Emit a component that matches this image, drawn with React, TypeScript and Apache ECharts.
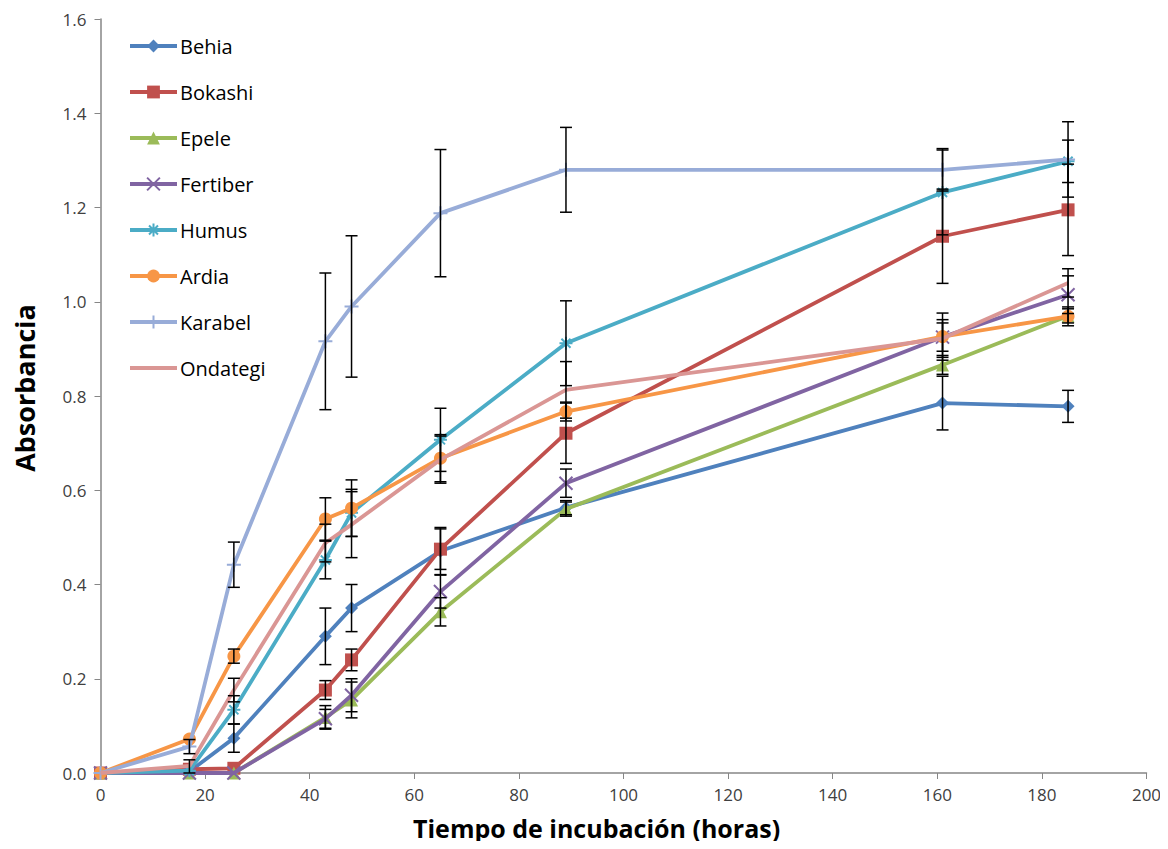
import React, { useEffect, useRef } from "react";
import * as echarts from "echarts";

const hours = [0, 17, 25.5, 43, 48, 65, 89, 161, 185];
const xTicks = [0, 20, 40, 60, 80, 100, 120, 140, 160, 180, 200];

const seriesNames = ["Behia", "Bokashi", "Epele", "Fertiber", "Humus", "Ardia", "Karabel", "Ondategi"];

const behia = [0, 0.003, 0.074, 0.29, 0.35, 0.471, 0.563, 0.785, 0.778];
const behiaErr = [0, 0, 0.03, 0.06, 0.05, 0.05, 0.015, 0.057, 0.034];
const bokashi = [0, 0.008, 0.01, 0.176, 0.24, 0.475, 0.721, 1.139, 1.195];
const bokashiErr = [0, 0.02, 0, 0.02, 0.023, 0.043, 0.064, 0.1, 0.097];
const epele = [0, 0, 0, 0.118, 0.155, 0.342, 0.56, 0.866, 0.97];
const epeleErr = [0, 0, 0, 0.025, 0.038, 0.03, 0.015, 0.02, 0.015];
const fertiber = [0, 0, 0, 0.115, 0.165, 0.385, 0.615, 0.925, 1.015];
const fertiberErr = [0, 0, 0, 0.02, 0.035, 0.035, 0.03, 0.03, 0.04];
const humus = [0, 0.005, 0.134, 0.452, 0.552, 0.707, 0.912, 1.232, 1.298];
const humusErr = [0, 0, 0.03, 0.04, 0.05, 0.067, 0.09, 0.09, 0.045];
const ardia = [0, 0.072, 0.248, 0.539, 0.562, 0.668, 0.767, 0.926, 0.969];
const ardiaErr = [0, 0, 0.015, 0.045, 0.06, 0.05, 0.02, 0.05, 0.02];
const karabel = [0, 0.056, 0.442, 0.916, 0.99, 1.188, 1.28, 1.28, 1.302];
const karabelErr = [0, 0.015, 0.048, 0.145, 0.15, 0.135, 0.09, 0.045, 0.08];
const ondategi = [0, 0.015, 0.176, 0.488, 0.527, 0.665, 0.813, 0.922, 1.04];
const ondategiErr = [0, 0, 0.025, 0.04, 0.07, 0.05, 0.06, 0.04, 0.03];

const allValues = [behia, bokashi, epele, fertiber, humus, ardia, karabel, ondategi];
const allErrors = [behiaErr, bokashiErr, epeleErr, fertiberErr, humusErr, ardiaErr, karabelErr, ondategiErr];

const colors = ["#4F81BD", "#C0504D", "#9BBB59", "#8064A2", "#4BACC6", "#F79646", "#98ACD8", "#DA9694"];
const symbols = [
  "diamond",
  "rect",
  "triangle",
  "path://M0,0L10,10M10,0L0,10",
  "path://M5,0L5,10M0,5L10,5M1.5,1.5L8.5,8.5M8.5,1.5L1.5,8.5",
  "circle",
  "path://M5,0L5,10M0,5L10,5",
  "none",
];
const symbolSizes = [13, 13, 13, 13, 13, 13, 14, 0];

const FONT = "'Open Sans', 'DejaVu Sans', sans-serif";

export default function App() {
  const ref = useRef<HTMLDivElement>(null);
  useEffect(() => {
    if (!ref.current) return;
    const chart = echarts.init(ref.current, null, { renderer: "svg" });

    const errData: number[][] = [];
    allValues.forEach((vals, si) => {
      vals.forEach((v, i) => {
        const e = allErrors[si][i];
        if (e > 0) errData.push([hours[i], Math.max(0, v - e), v + e]);
      });
    });

    const lineSeries = seriesNames.map((name, si) => {
      const isPath = symbols[si].startsWith("path://");
      return {
        name,
        type: "line",
        data: hours.map((h, i) => [h, allValues[si][i]]),
        symbol: symbols[si],
        symbolSize: symbolSizes[si],
        showSymbol: symbols[si] !== "none",
        lineStyle: { color: colors[si], width: 3.8 },
        itemStyle: isPath
          ? { color: colors[si], borderColor: colors[si], borderWidth: 2 }
          : { color: colors[si], borderWidth: 0 },
        z: 2 + si * 0.01,
      };
    });

    const legendData = seriesNames.map((name, si) =>
      symbols[si] === "none"
        ? { name, icon: "path://M0,0L47,0L47,4L0,4Z" }
        : { name }
    );

    chart.setOption({
      animation: false,
      backgroundColor: "#fff",
      textStyle: { fontFamily: FONT },
      grid: { left: 100.5, right: 21.5, top: 19, bottom: 76, containLabel: false },
      legend: {
        data: legendData,
        orient: "vertical",
        left: 128,
        top: 36,
        padding: 0,
        itemWidth: 47,
        itemHeight: 16,
        itemGap: 26,
        lineStyle: { width: 4 },
        textStyle: { fontSize: 20, color: "#000", fontFamily: FONT, padding: [0, 0, 0, -2] },
      },
      xAxis: {
        type: "value",
        min: xTicks[0],
        max: xTicks[xTicks.length - 1],
        interval: 20,
        axisLine: { lineStyle: { color: "#868686", width: 1.5 } },
        axisTick: { show: true, length: 6, lineStyle: { color: "#868686" } },
        splitLine: { show: false },
        axisLabel: { color: "#404040", fontSize: 17, margin: 13, fontFamily: FONT },
      },
      yAxis: {
        type: "value",
        min: 0,
        max: 1.6,
        interval: 0.2,
        axisLine: { show: true, lineStyle: { color: "#868686", width: 1.5 } },
        axisTick: { show: true, length: 6, lineStyle: { color: "#868686" } },
        splitLine: { show: false },
        axisLabel: {
          color: "#404040",
          fontSize: 17,
          margin: 14,
          fontFamily: FONT,
          formatter: (v: number) => v.toFixed(1),
        },
      },
      graphic: [
        {
          type: "text",
          left: 413,
          top: 815,
          style: {
            text: "Tiempo de incubación (horas)",
            fontSize: 25,
            fontWeight: "bold",
            fill: "#000",
            fontFamily: FONT,
          },
        },
        {
          type: "text",
          x: 24,
          y: 388,
          rotation: Math.PI / 2,
          style: {
            text: "Absorbancia",
            fontSize: 27,
            fontWeight: "bold",
            fill: "#000",
            fontFamily: FONT,
            align: "center",
            verticalAlign: "middle",
          },
        },
      ],
      series: [
        ...lineSeries,
        {
          name: "err",
          type: "custom",
          data: errData,
          z: 10,
          silent: true,
          renderItem: (params: any, api: any) => {
            const x = api.value(0);
            const lo = api.value(1);
            const hi = api.value(2);
            const top = api.coord([x, hi]);
            const bot = api.coord([x, lo]);
            const w = 6;
            const st = { stroke: "#000", lineWidth: 1.5 };
            return {
              type: "group",
              children: [
                { type: "line", shape: { x1: top[0], y1: top[1], x2: bot[0], y2: bot[1] }, style: st },
                { type: "line", shape: { x1: top[0] - w, y1: top[1], x2: top[0] + w, y2: top[1] }, style: st },
                { type: "line", shape: { x1: bot[0] - w, y1: bot[1], x2: bot[0] + w, y2: bot[1] }, style: st },
              ],
            };
          },
        },
      ],
    });
    return () => chart.dispose();
  }, []);

  return <div ref={ref} style={{ width: 1168, height: 849, margin: -8 }} />;
}
